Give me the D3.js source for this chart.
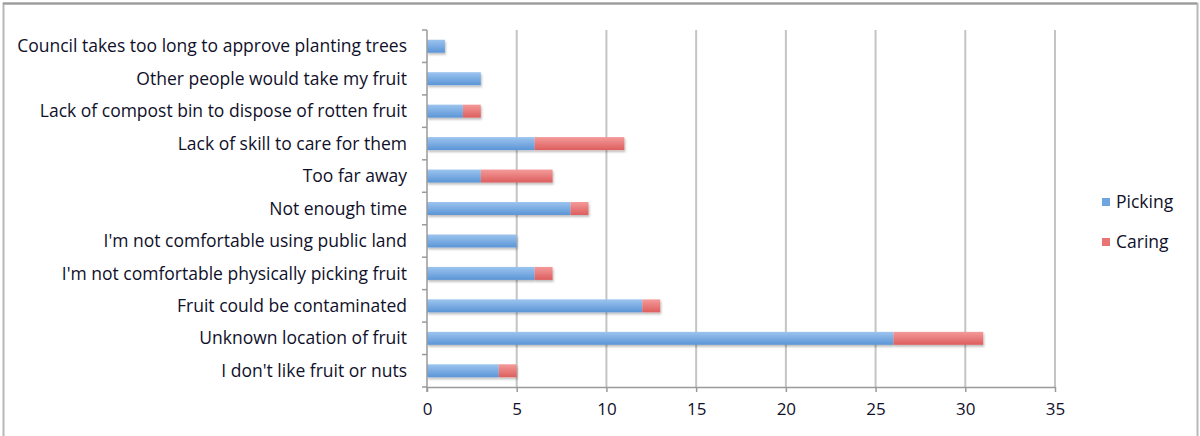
<!DOCTYPE html>
<meta charset="utf-8">
<style>
body { margin: 0; background: #fff; }
svg { display: block; }
.axis text, .lbl, .legend text {
  font: 17.5px "Open Sans", Lato, sans-serif;
  fill: #10102a;
}
.grid line { stroke: #c4c4c4; stroke-width: 2px; }
.axis path, .axis line { stroke: #9a9a9a; stroke-width: 1.5px; fill: none; }
</style>
<svg width="1200" height="436"></svg>
<script src="https://d3js.org/d3.v7.min.js"></script>
<script>
var categories = [
  "Council takes too long to approve planting trees",
  "Other people would take my fruit",
  "Lack of compost bin to dispose of rotten fruit",
  "Lack of skill to care for them",
  "Too far away",
  "Not enough time",
  "I'm not comfortable using public land",
  "I'm not comfortable physically picking fruit",
  "Fruit could be contaminated",
  "Unknown location of fruit",
  "I don't like fruit or nuts"
];
var picking = [1, 3, 2, 6, 3, 8, 5, 6, 12, 26, 4];
var caring  = [0, 0, 1, 5, 4, 1, 0, 1, 1, 5, 1];
var seriesNames = ["Picking", "Caring"];
var xTicks = [0, 5, 10, 15, 20, 25, 30, 35];

var svg = d3.select("svg"),
    margin = {top: 30, left: 427, right: 145, bottom: 49},
    width = 1200 - margin.left - margin.right,
    height = 436 - margin.top - margin.bottom;

// frame
svg.append("rect").attr("x", 3.5).attr("y", 3.5).attr("width", 1194).attr("height", 440)
  .attr("fill", "none").attr("stroke", "#b8b8b8").attr("stroke-width", 2);
svg.append("line").attr("x1", 3).attr("x2", 1197).attr("y1", 3.5).attr("y2", 3.5)
  .attr("stroke", "#999").attr("stroke-width", 2);

var defs = svg.append("defs");
function grad(id, c1, c2) {
  var g = defs.append("linearGradient").attr("id", id).attr("x1", 0).attr("x2", 0).attr("y1", 0).attr("y2", 1);
  g.append("stop").attr("offset", "0%").attr("stop-color", c1);
  g.append("stop").attr("offset", "100%").attr("stop-color", c2);
}
grad("gBlue", "#9cc4ef", "#5b95d6");
grad("gRed", "#f49a9a", "#dd5e5e");
defs.append("filter").attr("id", "shadow").attr("x", "-5%").attr("y", "-30%").attr("width", "110%").attr("height", "180%")
  .append("feDropShadow").attr("dx", 1).attr("dy", 2).attr("stdDeviation", 1.2).attr("flood-color", "#000").attr("flood-opacity", 0.25);

var g = svg.append("g").attr("transform", "translate(" + margin.left + "," + margin.top + ")");

var x = d3.scaleLinear().domain([0, 35]).range([0, width]);
var y = d3.scaleBand().domain(categories).range([0, height]).paddingInner(0.6).paddingOuter(0.3);

g.append("g").attr("class", "grid")
  .selectAll("line").data(xTicks.slice(1)).enter().append("line")
  .attr("x1", d => x(d)).attr("x2", d => x(d))
  .attr("y1", 0).attr("y2", height);

var stacked = categories.map(function(c, i) {
  return {cat: c, p: picking[i], c: caring[i]};
});

var bars = g.append("g").attr("filter", "url(#shadow)");
bars.selectAll(".bp").data(stacked).enter().append("rect")
  .attr("x", 0).attr("y", d => y(d.cat))
  .attr("width", d => x(d.p)).attr("height", y.bandwidth())
  .attr("fill", "url(#gBlue)");
bars.selectAll(".bc").data(stacked.filter(d => d.c > 0)).enter().append("rect")
  .attr("x", d => x(d.p)).attr("y", d => y(d.cat))
  .attr("width", d => x(d.p + d.c) - x(d.p)).attr("height", y.bandwidth())
  .attr("fill", "url(#gRed)");

// y axis with ticks between categories
var yAx = g.append("g").attr("class", "axis");
yAx.append("line").attr("x1", 0).attr("x2", 0).attr("y1", 0).attr("y2", height + 5);
var step = height / categories.length;
yAx.selectAll(".t").data(d3.range(categories.length + 1)).enter().append("line")
  .attr("x1", -5).attr("x2", 0).attr("y1", d => d * step).attr("y2", d => d * step);
yAx.selectAll(".lbl").data(categories).enter().append("text").attr("class", "lbl")
  .attr("x", -20).attr("y", d => y(d) + y.bandwidth() / 2)
  .attr("dy", "0.35em").attr("text-anchor", "end").text(d => d);

var xAx = g.append("g").attr("class", "axis").attr("transform", "translate(0," + height + ")")
  .call(d3.axisBottom(x).tickValues(xTicks).tickSize(5).tickSizeOuter(0).tickPadding(11));
xAx.selectAll("text").style("font-size", "17px");

// legend
var leg = svg.append("g").attr("class", "legend").attr("transform", "translate(1102,198)");
var colors = ["#6fa5e0", "#ea7474"];
seriesNames.forEach(function(s, i) {
  var r = leg.append("g").attr("transform", "translate(0," + i * 40 + ")");
  r.append("rect").attr("width", 8).attr("height", 8).attr("fill", colors[i]);
  r.append("text").attr("x", 14).attr("y", 4).attr("dy", "0.35em").text(s);
});
</script>
